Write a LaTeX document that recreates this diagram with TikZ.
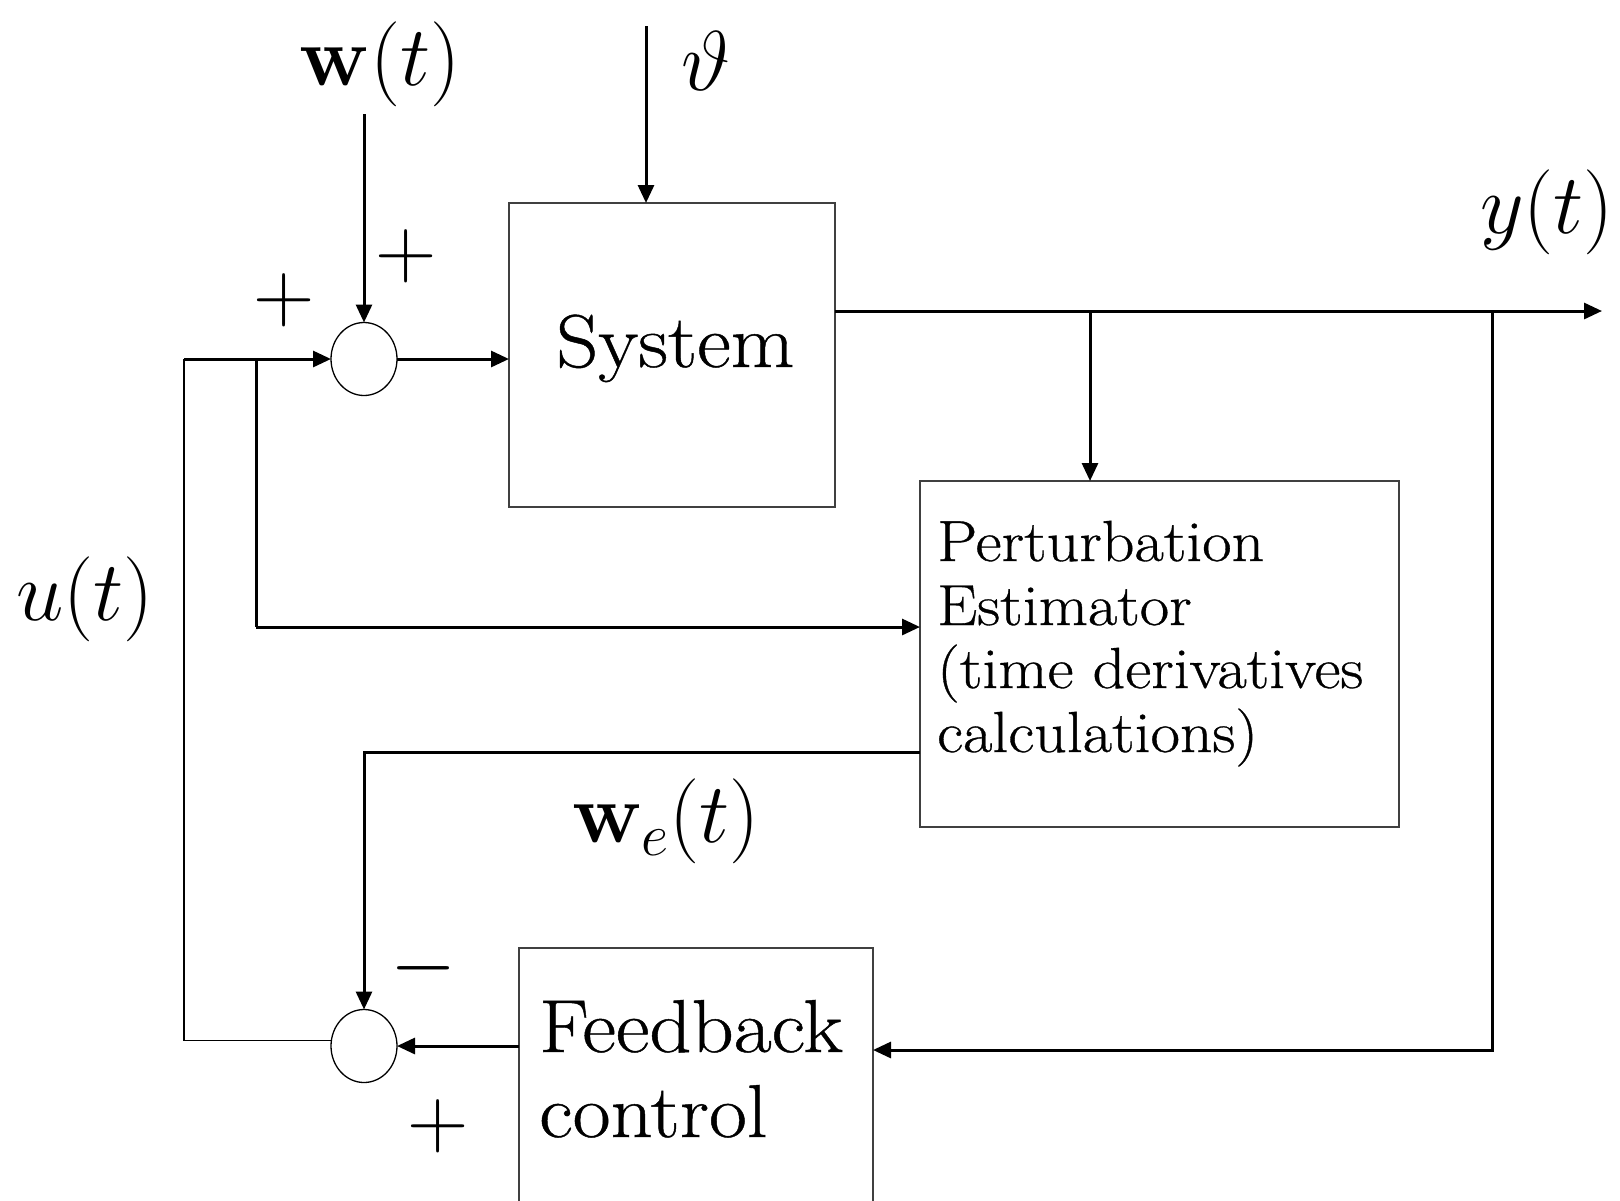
\RequirePackage{fix-cm}
\documentclass[tikz,border=0pt]{standalone}
\usepackage[no-math]{fontspec}
\setmainfont{Latin Modern Roman}[FakeStretch=1.1,FakeBold=0.6]
\usetikzlibrary{arrows.meta,shapes.geometric}
\begin{document}
\begin{tikzpicture}[x=1pt,y=-1pt,
  blockbox/.style={draw=black!75,line width=1.4pt,inner sep=0pt,outer sep=0pt,anchor=north west},
  sumnode/.style={draw,ellipse,line width=1.3pt,minimum width=66pt,minimum height=73pt,inner sep=0pt,outer sep=0pt},
  signal/.style={line width=3pt,-{Triangle[length=18pt,width=16pt]}},
  plainwire/.style={line width=1.4pt},
  bigtext/.style={font=\fontsize{75}{85}\selectfont,inner sep=0pt,anchor=base west},
  midtext/.style={font=\fontsize{58}{64}\selectfont,inner sep=0pt,anchor=base west},
  mathlabel/.style={font=\fontsize{85}{90}\selectfont,inner sep=0pt},
]
\clip (0,0) rectangle (1620,1200);
\fill[white] (0,0) rectangle (1620,1200);

% blocks
\node[blockbox,minimum width=326pt,minimum height=304pt] (sys) at (509,203) {};
\node[blockbox,minimum width=479pt,minimum height=346pt] (pest) at (920,481) {};
\node[blockbox,minimum width=354pt,minimum height=320pt] (fb) at (519,948) {};

% summing junctions
\node[sumnode] (sumA) at (364,359) {};
\node[sumnode] (sumB) at (364,1046) {};

% block texts
\node[bigtext] (systxt) at (556,367) {System};
\node[midtext] (pt1) at (937,561) {Perturbation};
\node[midtext] (pt2) at (937,625) {Estimator};
\node[midtext] (pt3) at (937,688) {(time derivatives};
\node[midtext] (pt4) at (937,752) {calculations)};
\node[bigtext] (fb1) at (539,1052) {Feedback};
\node[bigtext] (fb2) at (539,1137) {control};

% signal labels
\node[mathlabel] (lw) at (380,64) {$\mathbf{w}(t)$};
\node[mathlabel] (lth) at (706,61) {$\vartheta$};
\node[mathlabel] (ly) at (1547,212) {$y(t)$};
\node[mathlabel] (lu) at (85,599) {$u(t)$};
\node[mathlabel] (lwe) at (666,821) {$\mathbf{w}_e(t)$};
\node[mathlabel] (pA) at (284,300) {$+$};
\node[mathlabel] (pB) at (406,256) {$+$};
\node[mathlabel] (mC) at (424,968) {$-$};
\node[mathlabel] (pD) at (438,1126) {$+$};

% free ends and corners
\coordinate (wtop) at (364,114);
\coordinate (thtop) at (646,26);
\coordinate (uL) at (184,359);
\coordinate (uB) at (256,359);
\coordinate (uC) at (256,627);
\coordinate (yEnd) at (1602,311);
\coordinate (brP) at (1090,311);
\coordinate (brF) at (1492,311);
\coordinate (weC) at (364,752);

% connectors
\draw[signal] (wtop) -- (sumA.north);
\draw[signal] (thtop) -- (thtop |- sys.north);
\draw[signal] (uL) -- (sumA.west);
\draw[signal] (sumA.east) -- (sumA.east -| sys.west);
\draw[signal] (sys.east |- yEnd) -- (yEnd);
\draw[signal] (brP) -- (brP |- pest.north);
\draw[signal] (brF) |- ([yshift=-102pt]fb.north east);
\draw[line width=3pt] (uB) -- (uC);
\draw[signal] (uC) -- (uC -| pest.west);
\draw[signal] (pest.west |- weC) -- (weC) -- (sumB.north);
\draw[signal] ([yshift=-98pt]fb.north west) -- (sumB.east);
\draw[plainwire] (uL) |- (sumB.170);
\end{tikzpicture}
\end{document}
